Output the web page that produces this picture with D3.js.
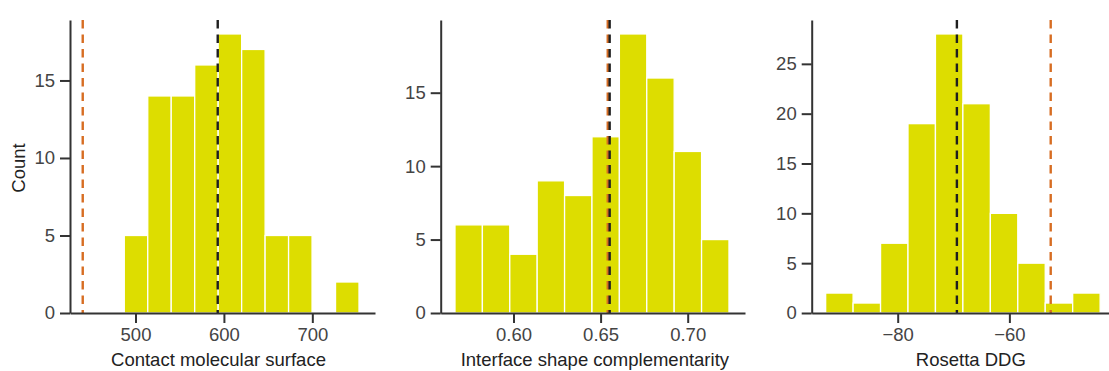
<!DOCTYPE html>
<html>
<head>
<meta charset="utf-8">
<script src="https://cdn.jsdelivr.net/npm/d3@7"></script>
<style>
  html, body { margin: 0; padding: 0; background: #fff; }
  text { font-family: "Liberation Sans", Arial, sans-serif; }
</style>
</head>
<body>
<svg id="chart" width="1109" height="371"></svg>
<script>
// ---- data ----
const cmsCounts = [5, 14, 14, 16, 18, 17, 5, 5, 0, 2];
const cmsBinRange = [487.3, 752.8];
const cmsMean = 593.0, cmsRef = 440.3;
const cmsTicks = [500, 600, 700];

const scCounts = [6, 6, 4, 9, 8, 12, 19, 16, 11, 5];
const scBinRange = [0.5664, 0.7237];
const scMean = 0.6552, scRef = 0.6541;
const scTicks = [0.60, 0.65, 0.70];

const ddgCounts = [2, 1, 7, 19, 28, 21, 10, 5, 1, 2];
const ddgBinRange = [-92.9, -43.75];
const ddgMean = -69.4, ddgRef = -52.6;
const ddgTicks = [-80, -60];

const labels = ["Contact molecular surface", "Interface shape complementarity", "Rosetta DDG"];
const xDomains = [[425.9, 770.9], [0.5582, 0.7329], [-95.4, -38.4]];
const yTicksList = [[0, 5, 10, 15], [0, 5, 10, 15], [0, 5, 10, 15, 20, 25]];

// ---- layout ----
const panels = [
  { counts: cmsCounts, bins: cmsBinRange, mean: cmsMean, ref: cmsRef, ticks: cmsTicks, fmt: d3.format("d"), left: 70, right: 375, labelShift: -4 },
  { counts: scCounts, bins: scBinRange, mean: scMean, ref: scRef, ticks: scTicks, fmt: d3.format(".2f"), left: 440.7, right: 745, labelShift: 2 },
  { counts: ddgCounts, bins: ddgBinRange, mean: ddgMean, ref: ddgRef, ticks: ddgTicks, fmt: d => d3.format("d")(d).replace("-", "\u2212"), left: 811.7, right: 1130, labelShift: 0 }
];
const plotTop = 20, plotBottom = 313;
const barColor = "#dddd00";
const axisColor = "#333333";
const textColor = "#444444";
const fontSize = "18.5px";

const svg = d3.select("#chart");
svg.append("rect").attr("width", 1109).attr("height", 371).attr("fill", "#fff");

panels.forEach((p, i) => {
  const x = d3.scaleLinear().domain(xDomains[i]).range([p.left, p.right]);
  const yMax = d3.max(p.counts) * 1.05;
  const y = d3.scaleLinear().domain([0, yMax]).range([plotBottom, plotTop]);
  const n = p.counts.length;
  const w = (p.bins[1] - p.bins[0]) / n;
  const data = p.counts.map((c, k) => ({ x0: p.bins[0] + k * w, x1: p.bins[0] + (k + 1) * w, c }));

  const g = svg.append("g");
  g.selectAll("rect.bar").data(data.filter(d => d.c > 0)).enter().append("rect")
    .attr("class", "bar")
    .attr("x", d => x(d.x0)).attr("width", d => x(d.x1) - x(d.x0))
    .attr("y", d => y(d.c)).attr("height", d => y(0) - y(d.c))
    .attr("fill", barColor).attr("stroke", "#ffffff").attr("stroke-width", 1.3);

  // reference lines
  const vline = (v, color) => g.append("line")
    .attr("x1", x(v)).attr("x2", x(v)).attr("y1", plotTop).attr("y2", plotBottom)
    .attr("stroke", color).attr("stroke-width", 2.4).attr("stroke-dasharray", "8.5,6");
  vline(p.ref, "#d76d22");
  vline(p.mean, "#1f1f1f");

  // x axis
  const xAxis = d3.axisBottom(x).tickValues(p.ticks).tickFormat(p.fmt).tickSizeInner(10).tickSizeOuter(0).tickPadding(5);
  const gx = g.append("g").attr("transform", `translate(0,${plotBottom})`).call(xAxis);
  gx.select(".domain").attr("stroke", axisColor).attr("stroke-width", 2);
  gx.selectAll(".tick line").attr("stroke", axisColor).attr("stroke-width", 2);
  gx.selectAll(".tick text").attr("fill", textColor).style("font-size", fontSize);

  // y axis
  const yAxis = d3.axisLeft(y).tickValues(yTicksList[i]).tickFormat(d3.format("d")).tickSizeInner(10).tickSizeOuter(0).tickPadding(5);
  const gy = g.append("g").attr("transform", `translate(${p.left},0)`).call(yAxis);
  gy.select(".domain").attr("stroke", axisColor).attr("stroke-width", 2);
  gy.selectAll(".tick line").attr("stroke", axisColor).attr("stroke-width", 2);
  gy.selectAll(".tick text").attr("fill", textColor).style("font-size", fontSize);

  // x label
  g.append("text").attr("x", (p.left + p.right) / 2 + p.labelShift).attr("y", 366)
    .attr("text-anchor", "middle").attr("fill", "#222").style("font-size", fontSize)
    .text(labels[i]);
});

svg.append("text").attr("transform", "translate(25,168) rotate(-90)")
  .attr("text-anchor", "middle").attr("fill", "#222").style("font-size", fontSize)
  .text("Count");
</script>
</body>
</html>
